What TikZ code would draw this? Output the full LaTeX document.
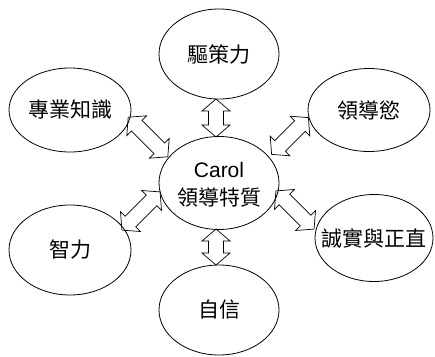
\documentclass[tikz,border=0pt]{standalone}
\usepackage{fontspec}
\setmainfont{Liberation Sans}
\newfontfamily\cjk{Noto Sans CJK TC}
\usetikzlibrary{shapes.geometric}
\newcommand\dblarr[4]{%
  \begin{scope}[shift={(#2,#3)},rotate=#4]
  \pgfmathsetmacro\hl{#1/2}\pgfmathsetmacro\hh{#1/2-12}
  \draw[darrow] (-\hl,0) -- (-\hh,14) -- (-\hh,7.5) -- (\hh,7.5) -- (\hh,14) -- (\hl,0)
     -- (\hh,-14) -- (\hh,-7.5) -- (-\hh,-7.5) -- (-\hh,-14) -- cycle;
  \end{scope}}
\begin{document}
\begin{tikzpicture}[x=1pt,y=-1pt,
  oval/.style={draw,ellipse,line width=0.8pt,inner sep=0pt},
  txt/.style={font=\fontsize{21}{25}\selectfont\cjk,inner sep=0pt},
  darrow/.style={draw,line width=0.7pt,line join=miter}]
\useasboundingbox (0,0) rectangle (435,356);
\node[oval,minimum width=120pt,minimum height=90pt] (top) at (219,54) {};
\node[txt] (ttop) at (top.center) {驅策力};
\node[oval,minimum width=122pt,minimum height=84pt] (nw) at (70,110) {};
\node[txt] (tnw) at (nw.center) {專業知識};
\node[oval,minimum width=122pt,minimum height=83pt] (ne) at (369,110) {};
\node[txt] (tne) at (ne.center) {領導慾};
\node[oval,minimum width=120pt,minimum height=93pt] (c) at (219,183) {};
\node[font=\fontsize{21}{25}\selectfont] (carol) at (219,170) {Carol};
\node[txt] (ct) at (219,197) {領導特質};
\node[oval,minimum width=122pt,minimum height=90pt] (sw) at (70,250) {};
\node[txt] (tsw) at (sw.center) {智力};
\node[oval,minimum width=118pt,minimum height=87pt] (se) at (374,238) {};
\node[txt] (tse) at (se.center) {誠實與正直};
\node[oval,minimum width=120pt,minimum height=90pt] (bot) at (219,310) {};
\node[txt] (tbot) at (bot.center) {自信};
\dblarr{38}{216}{118}{90}
\dblarr{36}{216}{247}{90}
\dblarr{56}{148}{137}{-45}
\dblarr{52}{290}{136}{45}
\dblarr{54}{141}{211}{45}
\dblarr{54}{295}{210}{-45}
\end{tikzpicture}
\end{document}
